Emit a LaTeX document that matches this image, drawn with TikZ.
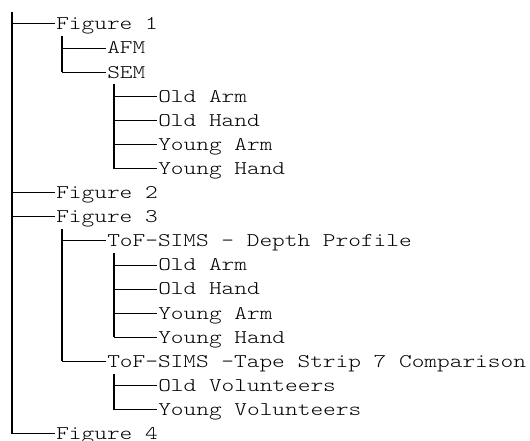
\documentclass[tikz,border=0pt]{standalone}
\usepackage{fontspec}
\newfontfamily\treefont{lmmonolt10-regular}[Extension=.otf, FakeStretch=1.25]
\begin{document}
\begin{tikzpicture}[x=0.75pt,y=-0.75pt,
  lbl/.style={anchor=west, inner sep=0pt, text height=8.8pt, text depth=0pt,
    font=\treefont\fontsize{14.5pt}{18pt}\selectfont},
  hline/.style={line width=0.75pt},
  vline/.style={line width=1.3pt}]
\useasboundingbox[fill=white] (0,0) rectangle (530,441);
% labels
\node[lbl] (f1)  at (56,24)    {Figure 1};
\node[lbl] (afm) at (107,48.1) {AFM};
\node[lbl] (sem) at (107,72.2) {SEM};
\node[lbl] (s1)  at (158,96.3) {Old Arm};
\node[lbl] (s2)  at (158,120.4) {Old Hand};
\node[lbl] (s3)  at (158,144.5) {Young Arm};
\node[lbl] (s4)  at (158,168.6) {Young Hand};
\node[lbl] (f2)  at (56,192.7) {Figure 2};
\node[lbl] (f3)  at (56,216.8) {Figure 3};
\node[lbl] (dp)  at (107,240.9) {ToF-SIMS - Depth Profile};
\node[lbl] (d1)  at (158,265) {Old Arm};
\node[lbl] (d2)  at (158,289.1) {Old Hand};
\node[lbl] (d3)  at (158,313.2) {Young Arm};
\node[lbl] (d4)  at (158,337.3) {Young Hand};
\node[lbl] (ts)  at (107,361.4) {ToF-SIMS -Tape Strip 7 Comparison};
\node[lbl] (t1)  at (158,385.5) {Old Volunteers};
\node[lbl] (t2)  at (158,409.6) {Young Volunteers};
\node[lbl] (f4)  at (56,433.7) {Figure 4};
% spine tops
\coordinate (root) at (12,12);
\coordinate (p1) at (62,36.1);
\coordinate (p2) at (114,84.3);
\coordinate (p3) at (62,228.9);
\coordinate (p4) at (114,253);
\coordinate (p5) at (114,373.5);
% vertical spines
\draw[vline] (root) -- (root |- f4.west);
\draw[vline] (p1) -- (p1 |- sem.west);
\draw[vline] (p2) -- (p2 |- s4.west);
\draw[vline] (p3) -- (p3 |- ts.west);
\draw[vline] (p4) -- (p4 |- d4.west);
\draw[vline] (p5) -- (p5 |- t2.west);
% horizontal branches
\foreach \n in {f1,f2,f3,f4} \draw[hline] (root |- \n.west) -- ([xshift=-1pt]\n.west);
\foreach \n in {afm,sem} \draw[hline] (p1 |- \n.west) -- ([xshift=-1pt]\n.west);
\foreach \n in {s1,s2,s3,s4} \draw[hline] (p2 |- \n.west) -- ([xshift=-1pt]\n.west);
\foreach \n in {dp,ts} \draw[hline] (p3 |- \n.west) -- ([xshift=-1pt]\n.west);
\foreach \n in {d1,d2,d3,d4} \draw[hline] (p4 |- \n.west) -- ([xshift=-1pt]\n.west);
\foreach \n in {t1,t2} \draw[hline] (p5 |- \n.west) -- ([xshift=-1pt]\n.west);
\end{tikzpicture}
\end{document}
